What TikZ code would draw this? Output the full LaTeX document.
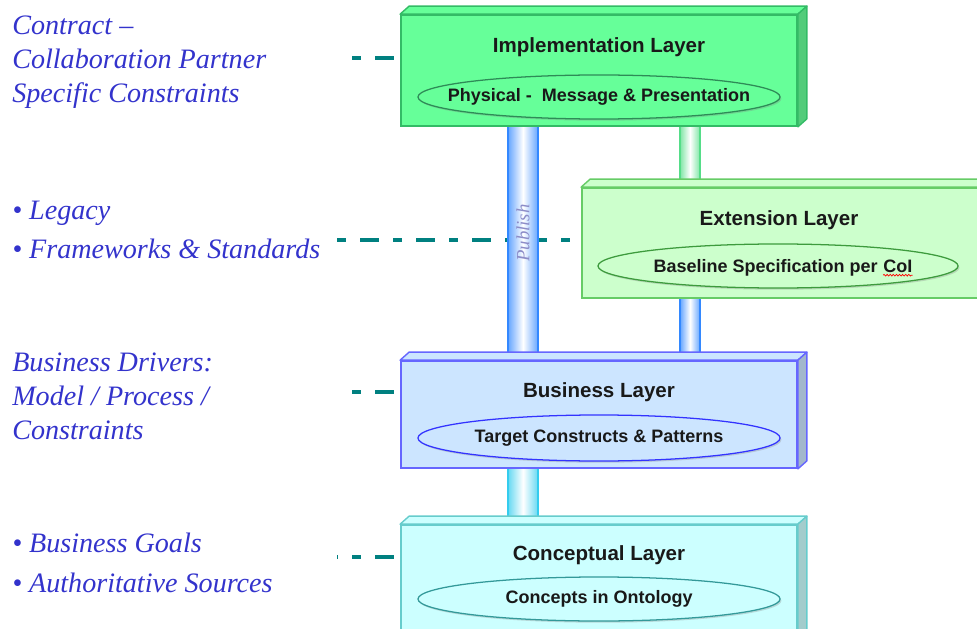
\documentclass[tikz,border=0pt]{standalone}
\usepackage{fontspec}
\setmainfont{Liberation Serif}
\setsansfont{Liberation Sans}
\usetikzlibrary{shapes.geometric,positioning,backgrounds,shadows,decorations.pathmorphing}

\definecolor{implfill}{HTML}{66FF99}
\definecolor{impldraw}{HTML}{33BB66}
\definecolor{implring}{HTML}{2E8B57}
\definecolor{extfill}{HTML}{CCFFCC}
\definecolor{extdraw}{HTML}{66CC66}
\definecolor{extring}{HTML}{3D9B3D}
\definecolor{busfill}{HTML}{CCE5FF}
\definecolor{busdraw}{HTML}{6666FF}
\definecolor{busring}{HTML}{3333FF}
\definecolor{confill}{HTML}{CCFFFF}
\definecolor{condraw}{HTML}{66CCCC}
\definecolor{conring}{HTML}{339999}
\definecolor{notecol}{HTML}{3333CC}
\definecolor{linkcol}{HTML}{008080}
\definecolor{pubtext}{HTML}{8C8CC8}
\definecolor{tubeblue}{HTML}{3388FF}
\definecolor{tubegreen}{HTML}{55DD88}
\definecolor{tubecyan}{HTML}{33CCEE}

\tikzset{
  layer/.style={rectangle, draw=#1draw, fill=#1fill, line width=1.2pt,
    minimum width=9.9cm, inner sep=0pt},
  core/.style={ellipse, draw=#1ring, fill=#1fill, line width=0.9pt,
    minimum width=9.05cm, minimum height=1.1cm, inner sep=0pt,
    font=\sffamily\bfseries\fontsize{12.8}{14}\selectfont, text=black!90,
    drop shadow={opacity=0.3, shadow xshift=1pt, shadow yshift=-1.2pt}},
  coretext/.style={inner sep=0pt, font=\sffamily\bfseries\fontsize{12.8}{14}\selectfont,
    text=black!90},
  title/.style={font=\sffamily\bfseries\fontsize{14.6}{16}\selectfont, text=black!90},
  note/.style={anchor=west, align=left, inner sep=0pt, text=notecol,
    font=\itshape\fontsize{20}{24.2}\selectfont},
  link/.style={linkcol, line width=2.6pt,
    dash pattern=on 6.4pt off 10pt on 13.5pt off 10pt},
  tube/.style={draw=#1, line width=0.9pt, left color=#1!75, right color=#1!75,
    middle color=white},
}

\begin{document}
\begin{tikzpicture}[x=0.025cm, y=-0.025cm]
\useasboundingbox (0,0) rectangle (977,629);

% the four layers, front faces
\node[layer=impl, minimum height=2.775cm] (impl) at (599,70.5) {};
\node[layer=ext, minimum width=10.2cm, minimum height=2.75cm] (ext) at (786,243) {};
\node[layer=bus, minimum height=2.675cm] (bus) at (599,414.5) {};
\node[layer=con, minimum height=2.875cm] (con) at (599,582.5) {};

% top and side faces
\foreach \n in {impl,ext,bus,con} {
  \filldraw[fill=\n fill, draw=\n draw, line width=1pt, line join=round]
    (\n.north west) -- ++(9,-8) -- ([shift={(9,-8)}]\n.north east)
    -- (\n.north east) -- cycle;
  \filldraw[fill=\n fill!80!black, draw=\n draw, line width=1pt, line join=round]
    (\n.north east) -- ++(9,-8) -- ([shift={(9,-8)}]\n.south east)
    -- (\n.south east) -- cycle;
}

\node[title] (impltitle) at (599,47) {Implementation Layer};
\node[core=impl] (implcore) at (599,97)
  {\makebox[0pt]{Physical -\ \ Message \& Presentation}};

\node[title] (exttitle) at (779,220) {Extension Layer};
\node[core=ext, minimum width=9cm] (extcore) at (778,266) {};
\node[coretext, anchor=east] (extword) at (878,268) {Baseline Specification per};
\node[coretext, anchor=base west] (coi) at ([xshift=3.6pt]extword.base east) {CoI};
\draw[red, line width=0.5pt, decorate, decoration={snake, amplitude=0.6pt, segment length=2.2pt}]
  ([yshift=-1.8pt]coi.base west) -- ([yshift=-1.8pt]coi.base east);

\node[title] (bustitle) at (599,392) {Business Layer};
\node[core=bus, minimum height=1.15cm] (buscore) at (599,438)
  {\makebox[0pt]{Target Constructs \& Patterns}};

\node[title] (contitle) at (599,555) {Conceptual Layer};
\node[core=con] (concore) at (599,599) {\makebox[0pt]{Concepts in Ontology}};

\node[rotate=90, text=pubtext, font=\itshape\fontsize{13.3}{14}\selectfont]
  (publish) at (523,233) {Publish};

% notes on the left
\node[note] (contract) at (12,62) {Contract --\\Collaboration Partner\\Specific Constraints};
\node[note] (legacy) at (12,230) {\textbullet\ Legacy\\[4pt]\textbullet\ Frameworks \& Standards};
\node[note] (drivers) at (12,396) {Business Drivers:\\Model / Process /\\Constraints};
\node[note] (goals) at (12,563) {\textbullet\ Business Goals\\[4pt]\textbullet\ Authoritative Sources};

\coordinate (d1) at (352,58);
\coordinate (d2) at (337,240);
\coordinate (d3) at (352,392);
\coordinate (d4) at (337,557);

\begin{scope}[on background layer]
  \draw[link] (d1) -- (d1 -| impl.west);
  \draw[link] (d2) -- (d2 -| ext.west);
  \draw[link] (d3) -- (d3 -| bus.west);
  \draw[link, dash phase=29.2pt] (d4) -- (d4 -| con.west);
  % tubes between the layers
  \shadedraw[tube=tubeblue] (508,0 |- impl.south) rectangle (538,0 |- bus.north);
  \shadedraw[tube=tubegreen] (680,0 |- impl.south) rectangle (700,0 |- ext.north);
  \shadedraw[tube=tubeblue] (680,0 |- ext.south) rectangle (700,0 |- bus.north);
  \shadedraw[tube=tubecyan] (508,0 |- bus.south) rectangle (538,0 |- con.north);
\end{scope}
\end{tikzpicture}
\end{document}
